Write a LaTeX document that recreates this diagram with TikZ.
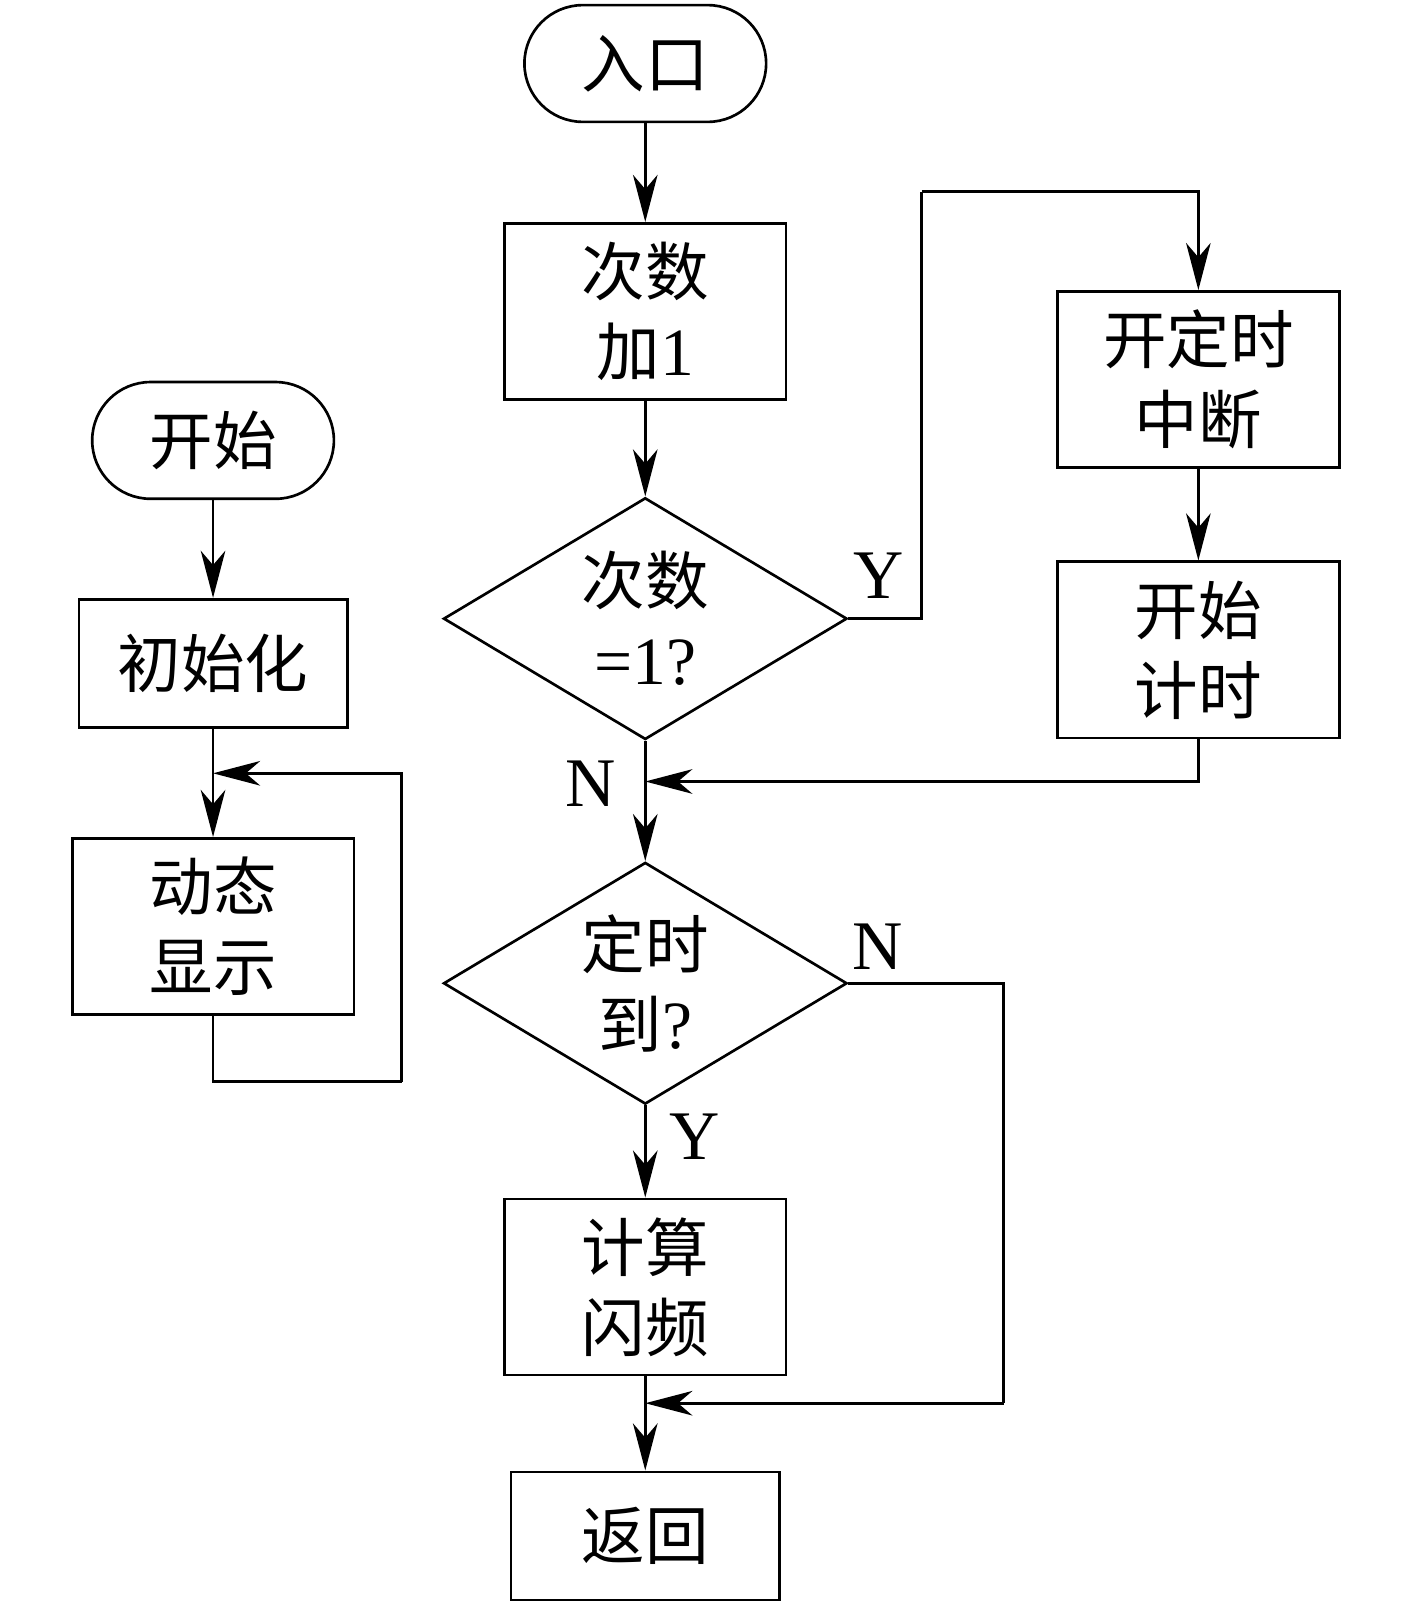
\documentclass[tikz,border=0pt]{standalone}
\usepackage{fontspec}
\setmainfont{Liberation Serif}
\newfontfamily\cjk[Scale=0.94]{Noto Sans CJK SC}
\usetikzlibrary{shapes.geometric,arrows.meta}
\tikzset{
  base/.style={draw, line width=1.3pt, align=center, inner sep=0pt,
    font=\fontsize{33}{39}\selectfont},
  term/.style={base, rounded corners=28.5pt, minimum width=118pt, minimum height=57pt},
  proc/.style={base, minimum width=137.5pt, minimum height=86pt},
  procs/.style={base, minimum width=131pt, minimum height=62.5pt},
  dec/.style={base, diamond, minimum width=197pt, minimum height=118pt, aspect=1.68},
  arr/.style={line width=1.3pt, -{Stealth[length=23pt, width=12pt, inset=7pt]}},
  ln/.style={line width=1.3pt},
  lab/.style={font=\fontsize{34}{39}\selectfont, inner sep=0pt}
}
\begin{document}
\begin{tikzpicture}[x=0.5pt, y=-0.5pt]
\useasboundingbox (0,0) rectangle (1383,1568);
% main column
\node[term] (entry) at (630,62) {\cjk 入口};
\node[proc] (inc) at (630,304) {\cjk 次数\\{\cjk 加}1};
\node[dec] (d1) at (630,604) {\cjk 次数\\=1?};
\node[dec] (d2) at (630,960) {\cjk 定时\\{\cjk 到}?};
\node[proc] (calc) at (630,1256.5) {\cjk 计算\\{\cjk 闪频}};
\node[procs] (ret) at (630,1499.5) {\cjk 返回};
% right column
\node[proc] (t1) at (1170,370.5) {\cjk 开定时\\{\cjk 中断}};
\node[proc] (t2) at (1170,634.5) {\cjk 开始\\{\cjk 计时}};
% left column
\node[term] (start) at (208,430) {\cjk 开始};
\node[procs] (init) at (208,647.5) {\cjk 初始化};
\node[proc] (disp) at (208,904.5) {\cjk 动态\\{\cjk 显示}};
% coordinates
\coordinate (yc) at (900,187);
\coordinate (m1) at (630,763);
\coordinate (nc) at (980,1370);
\coordinate (m2) at (630,1370);
\coordinate (lA) at (392,1056);
\coordinate (loopin) at (208,755);
% connectors
\draw[arr] (entry) -- (inc);
\draw[arr] (inc) -- (d1);
\draw[ln] (d1.east) -| (yc);
\draw[arr] (yc) -| (t1.north);
\draw[arr] (t1) -- (t2);
\draw[arr] (t2.south) |- (m1);
\draw[arr] (d1.south) -- (d2.north);
\draw[arr] (d2.south) -- (calc.north);
\draw[ln] (d2.east) -| (nc);
\draw[arr] (nc) -- (m2);
\draw[arr] (calc.south) -- (ret.north);
\draw[arr] (start) -- (init);
\draw[arr] (init) -- (disp);
\draw[ln] (disp.south) |- (lA);
\draw[arr] (lA) |- (loopin);
% labels
\node[lab] (ly1) at (858,562) {Y};
\node[lab] (ln1) at (577,765) {N};
\node[lab] (ln2) at (857,924) {N};
\node[lab] (ly2) at (678,1110) {Y};
\end{tikzpicture}
\end{document}
